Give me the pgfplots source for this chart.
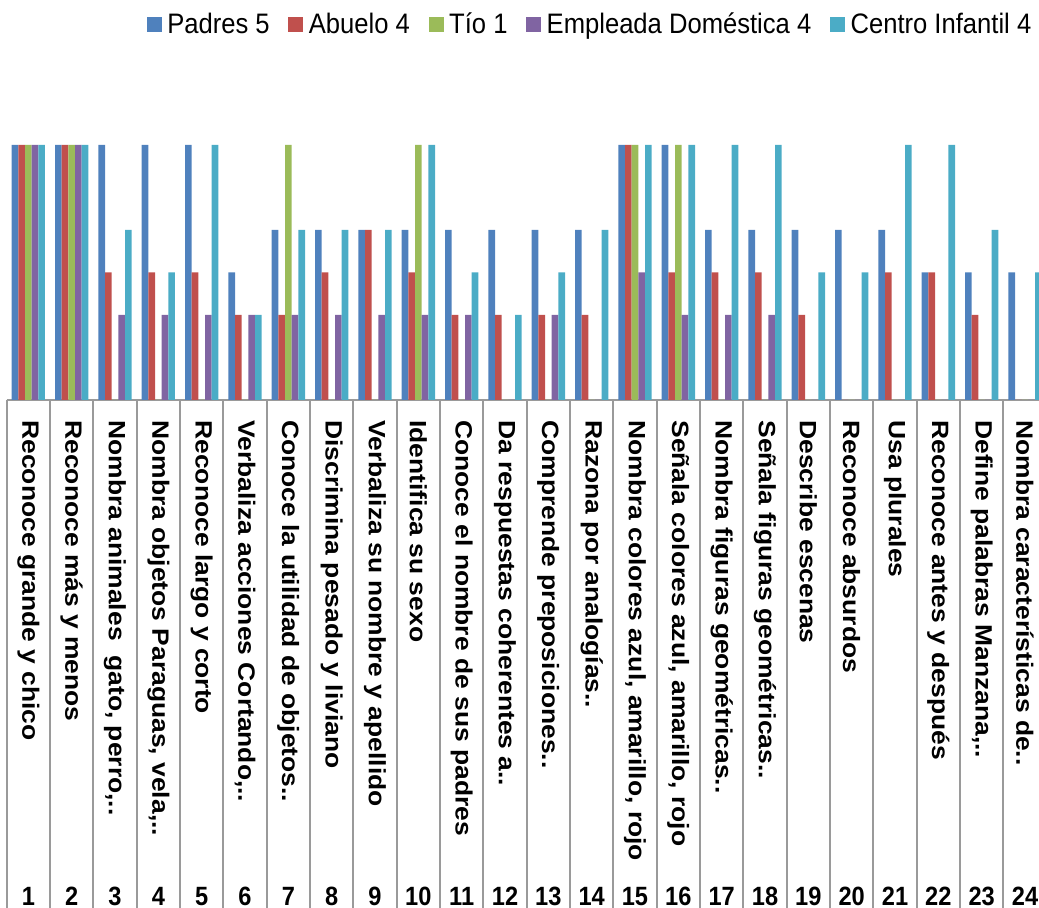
\documentclass[border=0pt]{standalone}
\usepackage{pgfplots}
\pgfplotsset{compat=1.18}
\usepackage{pgfplotstable}
\usepackage{graphicx}
\usepackage{fontspec}
\setmainfont{Liberation Sans}
\definecolor{cP}{HTML}{4F81BD}
\definecolor{cA}{HTML}{C0504D}
\definecolor{cT}{HTML}{9BBB59}
\definecolor{cE}{HTML}{8064A2}
\definecolor{cC}{HTML}{4BACC6}
\definecolor{sep}{HTML}{9A9A9A}
\newcommand{\lab}[1]{\rotatebox{-90}{\scalebox{1.12}[1]{#1}}}
\newcommand{\leg}[1]{\scalebox{1}[1.1]{#1}}
\pgfplotstableread{
x P A T E C
1 6 6 6 6 6
2 6 6 6 6 6
3 6 3 0 2 4
4 6 3 0 2 3
5 6 3 0 2 6
6 3 2 0 2 2
7 4 2 6 2 4
8 4 3 0 2 4
9 4 4 0 2 4
10 4 3 6 2 6
11 4 2 0 2 3
12 4 2 0 0 2
13 4 2 0 2 3
14 4 2 0 0 4
15 6 6 6 3 6
16 6 3 6 2 6
17 4 3 0 2 6
18 4 3 0 2 6
19 4 2 0 0 3
20 4 0 0 0 3
21 4 3 0 0 6
22 3 3 0 0 6
23 3 2 0 0 4
24 3 0 0 0 3
}\data
\begin{document}
\begin{tikzpicture}
\useasboundingbox (0,0) rectangle (519.5pt,454pt);
\clip (0,0) rectangle (519.5pt,454pt);
\begin{axis}[
  at={(3.333pt,254pt)}, anchor=south west,
  scale only axis, width=520pt, height=127.5pt,
  xmin=0.5, xmax=24.5, ymin=0, ymax=6,
  enlargelimits=false,
  ybar=0pt, bar width=3.333pt,
  legend image code/.code={\fill[#1] (-3.75pt,-3.75pt) rectangle (3.75pt,3.75pt);},
  axis x line*=bottom, axis y line=none,
  x axis line style={-, draw=sep, line width=1.2pt},
  xtick={1,...,24},
  xticklabels={
    {\lab{Reconoce grande y chico}},
    {\lab{Reconoce más y menos}},
    {\lab{Nombra animales\ \ gato, perro,..}},
    {\lab{Nombra objetos Paraguas, vela,..}},
    {\lab{Reconoce largo y corto}},
    {\lab{Verbaliza acciones Cortando,..}},
    {\lab{Conoce la utilidad de objetos..}},
    {\lab{Discrimina pesado y liviano}},
    {\lab{Verbaliza su nombre y apellido}},
    {\lab{Identifica su sexo}},
    {\lab{Conoce el nombre de sus padres}},
    {\lab{Da respuestas coherentes a..}},
    {\lab{Comprende preposiciones..}},
    {\lab{Razona por analogías..}},
    {\lab{Nombra colores azul, amarillo, rojo}},
    {\lab{Señala colores azul, amarillo, rojo}},
    {\lab{Nombra figuras geométricas..}},
    {\lab{Señala figuras geométricas..}},
    {\lab{Describe escenas}},
    {\lab{Reconoce absurdos}},
    {\lab{Usa plurales}},
    {\lab{Reconoce antes y después}},
    {\lab{Define palabras Manzana,..}},
    {\lab{Nombra características de..}}},
  major tick length=0pt,
  minor xtick={0.5,1.5,...,24.5},
  minor tick length=254pt,
  tick align=outside,
  minor tick style={draw=sep, line width=1pt},
  xticklabel style={anchor=north, inner sep=0pt, yshift=-10pt,
    font=\fontsize{11.8pt}{14pt}\selectfont\bfseries},
  clip=false,
  legend columns=5,
  legend style={at={(axis description cs:0.991,1.4706)}, anchor=east,
    draw=none, fill=none, inner sep=0pt,
    font=\fontsize{12.8pt}{15pt}\selectfont,
    nodes={inner ysep=2.2pt, inner xsep=2.8pt},
    /tikz/every even column/.append style={column sep=6.5pt}},
]
\addplot[fill=cP, draw=none] table[x=x,y=P]{\data};
\addplot[fill=cA, draw=none] table[x=x,y=A]{\data};
\addplot[fill=cT, draw=none] table[x=x,y=T]{\data};
\addplot[fill=cE, draw=none] table[x=x,y=E]{\data};
\addplot[fill=cC, draw=none] table[x=x,y=C]{\data};
\legend{\leg{Padres 5}, \leg{Abuelo 4}, \leg{Tío 1}, \leg{Empleada Doméstica 4}, \leg{Centro Infantil 4}}
\pgfplotsinvokeforeach{1,...,24}{
  \node[anchor=north, inner sep=0pt, yshift=-243.3pt,
    font=\fontsize{11.8pt}{14pt}\selectfont\bfseries] at (axis cs:#1,0) {\scalebox{1}[1.12]{#1}};
}
\end{axis}
\end{tikzpicture}
\end{document}
